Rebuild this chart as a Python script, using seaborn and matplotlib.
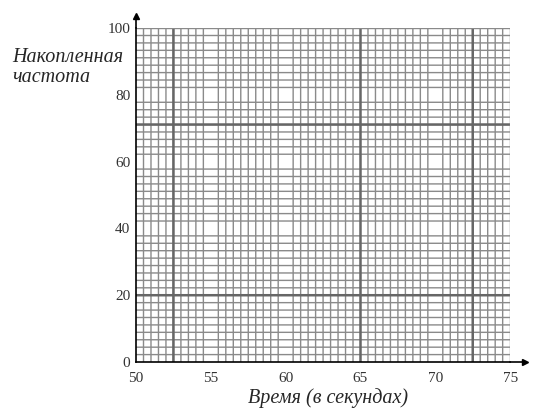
import numpy as np
import matplotlib
matplotlib.use("Agg")
import matplotlib.pyplot as plt
import seaborn as sns

# Оси и деления
x_ticks = [50, 55, 60, 65, 70, 75]
y_ticks = [0, 20, 40, 60, 80, 100]
x_range = [50, 75]
y_range = [0, 100]

# Миллиметровка: мелкая сетка и толстые линии
x_minor_step = 0.5
y_minor_step = 100 / 45
x_thick = [52.5, 65, 72.5]
y_thick = [20, 71.11]

sns.set_theme(style="white")
plt.rcParams['font.family'] = ['Liberation Serif', 'DejaVu Serif']

fig = plt.figure(figsize=(5.43, 4.19), dpi=100)
ax = fig.add_axes([0.2505, 0.136, 0.689, 0.797])

ax.set_xlim(x_range)
ax.set_ylim(y_range)

# мелкая сетка
ax.set_xticks(np.arange(x_range[0], x_range[1] + 1e-9, x_minor_step), minor=True)
ax.set_yticks(np.arange(y_range[0], y_range[1] + 1e-9, y_minor_step), minor=True)
ax.grid(which='minor', color='#8a8a8a', linewidth=1.0, snap=False)
ax.grid(which='major', visible=False)

# толстые линии
for xv in x_thick:
    ax.axvline(xv, color='#666666', linewidth=1.8, snap=False)
for yv in y_thick:
    ax.axhline(yv, color='#666666', linewidth=1.8, snap=False)

# правая и верхняя границы сетки
ax.axvline(x_range[1], color='#8a8a8a', linewidth=1.0)
ax.axhline(y_range[1], color='#8a8a8a', linewidth=1.0)

ax.set_xticks(x_ticks)
ax.set_yticks(y_ticks)
ax.tick_params(which='both', length=0, labelsize=11, colors='#333333')
ax.tick_params(axis='x', pad=7)
ax.tick_params(axis='y', pad=4)

sns.despine(ax=ax)
ax.spines['left'].set_color('black')
ax.spines['bottom'].set_color('black')
ax.spines['left'].set_linewidth(1.2)
ax.spines['bottom'].set_linewidth(1.2)

# стрелки осей
ax.plot([1, 1.04], [0, 0], color='black', lw=1.2, transform=ax.transAxes, clip_on=False)
ax.plot([1.04], [0], marker='>', color='black', ms=5, transform=ax.transAxes, clip_on=False)
ax.plot([0, 0], [1, 1.036], color='black', lw=1.2, transform=ax.transAxes, clip_on=False)
ax.plot([0], [1.036], marker='^', color='black', ms=5, transform=ax.transAxes, clip_on=False)

# подписи осей
fig.text(0.022, 0.885, 'Накопленная\nчастота', fontsize=14.5, style='italic',
         ha='left', va='top', linespacing=1.05,
         bbox=dict(facecolor='white', edgecolor='none', pad=0.5), zorder=10)
fig.text(0.604, 0.05, 'Время (в секундах)', fontsize=14.5, style='italic',
         ha='center', va='center')

fig.savefig('out.png', dpi=100)
plt.close(fig)
